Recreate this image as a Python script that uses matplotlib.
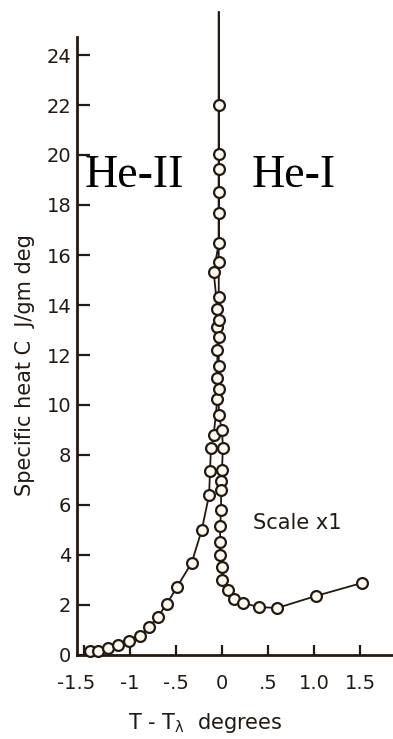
import matplotlib
matplotlib.use("Agg")
import matplotlib.pyplot as plt
import matplotlib.transforms as mtransforms

# ---- data (T - T_lambda in degrees, specific heat C in J/gm deg) ----
below_T = [-1.43, -1.35, -1.24, -1.13, -1.01, -0.89, -0.79, -0.70, -0.60, -0.49,
           -0.33, -0.22, -0.14, -0.13, -0.12, -0.09,
           -0.05, -0.05, -0.05, -0.05, -0.05, -0.09, -0.035, -0.035, -0.035, -0.035]
below_C = [0.16, 0.16, 0.28, 0.40, 0.56, 0.76, 1.12, 1.52, 2.04, 2.72,
           3.68, 5.0, 6.4, 7.36, 8.28, 8.8,
           10.24, 11.08, 12.2, 13.12, 13.84, 15.32, 16.48, 18.52, 20.04, 22.0]

above_T = [-0.035, -0.035, -0.035, -0.035, -0.035, -0.035, -0.035, -0.035, -0.035,
           0.0, 0.01, 0.0, -0.01, -0.01, -0.01, -0.02, -0.02, -0.02, 0.0, 0.0,
           0.07, 0.13, 0.23, 0.40, 0.60, 1.02, 1.52]
above_C = [19.44, 17.68, 15.72, 14.32, 13.4, 12.72, 11.56, 10.64, 9.6,
           9.0, 8.3, 7.4, 6.96, 6.6, 5.8, 5.16, 4.52, 4.0, 3.52, 3.0,
           2.6, 2.24, 2.08, 1.92, 1.88, 2.36, 2.88]

peak_T = -0.035
peak_C = 25.72

yticks = [0, 2, 4, 6, 8, 10, 12, 14, 16, 18, 20, 22, 24]
xticks = [-1.5, -1.0, -0.5, 0.0, 0.5, 1.0, 1.5]
xtick_labels = ["-1.5", "-1", "-.5", "0", ".5", "1.0", "1.5"]

ink = "#221a12"
W, H = 393, 739

fig = plt.figure(figsize=(W / 100, H / 100), dpi=100)
ax = fig.add_axes([77 / W, (H - 655) / H, (W - 77) / W, (655 - 12) / H])
ax.set_xlim(-1.576, 1.859)
ax.set_ylim(0, 25.72)

line_T = below_T + [peak_T] + above_T
line_C = below_C + [peak_C] + above_C
ax.plot(line_T, line_C, color=ink, lw=1.3, clip_on=False, zorder=2)
ax.plot(below_T + above_T, below_C + above_C, ls="none", marker="o", ms=7.8,
        mfc="#fffaf0", mec=ink, mew=1.6, clip_on=False, zorder=3)

for s in ["top", "right"]:
    ax.spines[s].set_visible(False)
for s in ["left", "bottom"]:
    ax.spines[s].set_color(ink)
    ax.spines[s].set_linewidth(2.0)
ax.spines["left"].set_bounds(0, 24.72)

ax.set_yticks(yticks)
ax.set_yticklabels([str(v) for v in yticks])
ax.set_xticks(xticks)
ax.set_xticklabels(xtick_labels)
ax.tick_params(axis="y", direction="in", length=9.5, width=1.6, color=ink,
               labelsize=14, labelcolor=ink, pad=4)
ax.tick_params(axis="x", direction="in", length=7, width=1.6, color=ink,
               labelsize=14, labelcolor=ink, pad=14)

# first x tick label sits a little left of its tick in the reference
first = ax.get_xticklabels()[0]
first.set_transform(first.get_transform() +
                    mtransforms.ScaledTranslation(-8 / 100, 0, fig.dpi_scale_trans))

fig.text(25 / W, 1 - 365 / H, "Specific heat C  J/gm deg", rotation=90,
         ha="center", va="center", fontsize=15, color=ink)
fig.text(205 / W, 1 - 729 / H, r"T - T$_{\mathregular{λ}}$  degrees", ha="center",
         va="baseline", fontsize=15, color=ink)
fig.text(253 / W, 1 - 523 / H, "Scale x1", ha="left", va="center",
         fontsize=15, color=ink)

fig.text(85 / W, 1 - 187 / H, "He-II", family="Liberation Serif",
         fontsize=33, color="black", ha="left", va="baseline")
fig.text(252 / W, 1 - 187 / H, "He-I", family="Liberation Serif",
         fontsize=33, color="black", ha="left", va="baseline")

fig.savefig("out.png", dpi=100, facecolor="white")
